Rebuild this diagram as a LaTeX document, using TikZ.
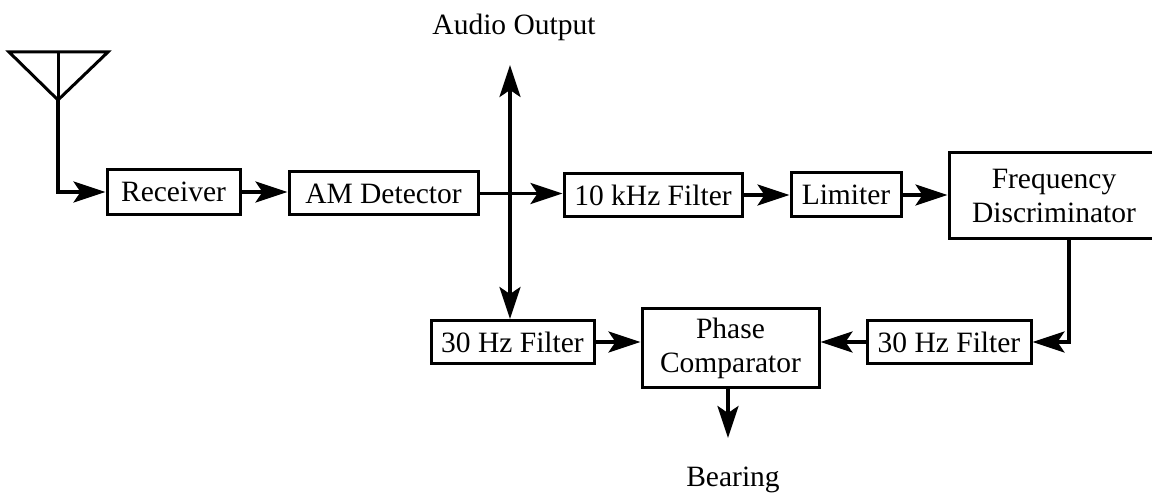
\documentclass[tikz,border=0pt]{standalone}
\usepackage{fontspec}
\setmainfont{Liberation Serif}
\usetikzlibrary{arrows.meta,calc}
\begin{document}
\begin{tikzpicture}[x=1pt,y=-1pt,
  box/.style={draw,line width=3pt,inner sep=0pt,align=center,font=\fontsize{29.5}{34}\selectfont},
  lbl/.style={inner sep=0pt,font=\fontsize{29.5}{34}\selectfont},
  conn/.style={line width=3.5pt},
  arr/.style={conn,-{Stealth[length=32pt,width=21pt,inset=7pt]}},
  ant/.style={line width=3pt,line join=miter}]
\clip (0,0) rectangle (1152,502);
% boxes
\node[box,minimum width=133pt,minimum height=45pt] (rec) at (173.5,192) {Receiver};
\node[box,minimum width=189pt,minimum height=43pt] (am) at (383.5,193.5) {AM Detector};
\node[box,minimum width=178pt,minimum height=43pt] (khz) at (653,195) {10 kHz Filter};
\node[box,minimum width=110pt,minimum height=44pt] (lim) at (846,195) {Limiter};
\node[box,minimum width=210pt,minimum height=86pt] (fd) at (1054,196) {Frequency\\Discriminator};
\node[box,minimum width=163pt,minimum height=43pt] (f30l) at (512.5,342) {30 Hz Filter};
\node[box,minimum width=177pt,minimum height=79pt] (pc) at (730.5,348.5) {Phase\\Comparator};
\node[box,minimum width=164pt,minimum height=43pt] (f30r) at (949,342) {30 Hz Filter};
% labels
\node[lbl] (audio) at (514,27) {Audio Output};
\node[lbl] (bearing) at (733,480) {Bearing};
% antenna
\coordinate (tl) at (9,52);
\coordinate (tr) at (108,52);
\coordinate (tm) at (58,52);
\coordinate (apex) at (58,100);
\draw[ant] (tl) -- (tr) -- (apex) -- cycle;
\draw[ant] (tm) -- (apex);
\draw[arr] (apex) |- (rec.west);
% main chain
\draw[arr] (rec.east) -- (rec.east -| am.west);
\draw[arr] (am.east) -- (am.east -| khz.west);
\draw[arr] (khz.east) -- (khz.east -| lim.west);
\draw[arr] (lim.east) -- (lim.east -| fd.west);
% junction vertical
\coordinate (j) at (510,194);
\coordinate (audtip) at (510,65);
\draw[arr] (j) -- (audtip);
\draw[arr] (j) -- (j |- f30l.north);
% feedback from discriminator
\coordinate (fdout) at (1069,239);
\draw[arr] (fdout) |- (f30r.east);
\draw[arr] (f30r.west) -- (f30r.west -| pc.east);
\draw[arr] (f30l.east) -- (f30l.east -| pc.west);
% bearing
\coordinate (pcout) at (728,388);
\coordinate (btip) at (728,438);
\draw[arr] (pcout) -- (btip);
\end{tikzpicture}
\end{document}
